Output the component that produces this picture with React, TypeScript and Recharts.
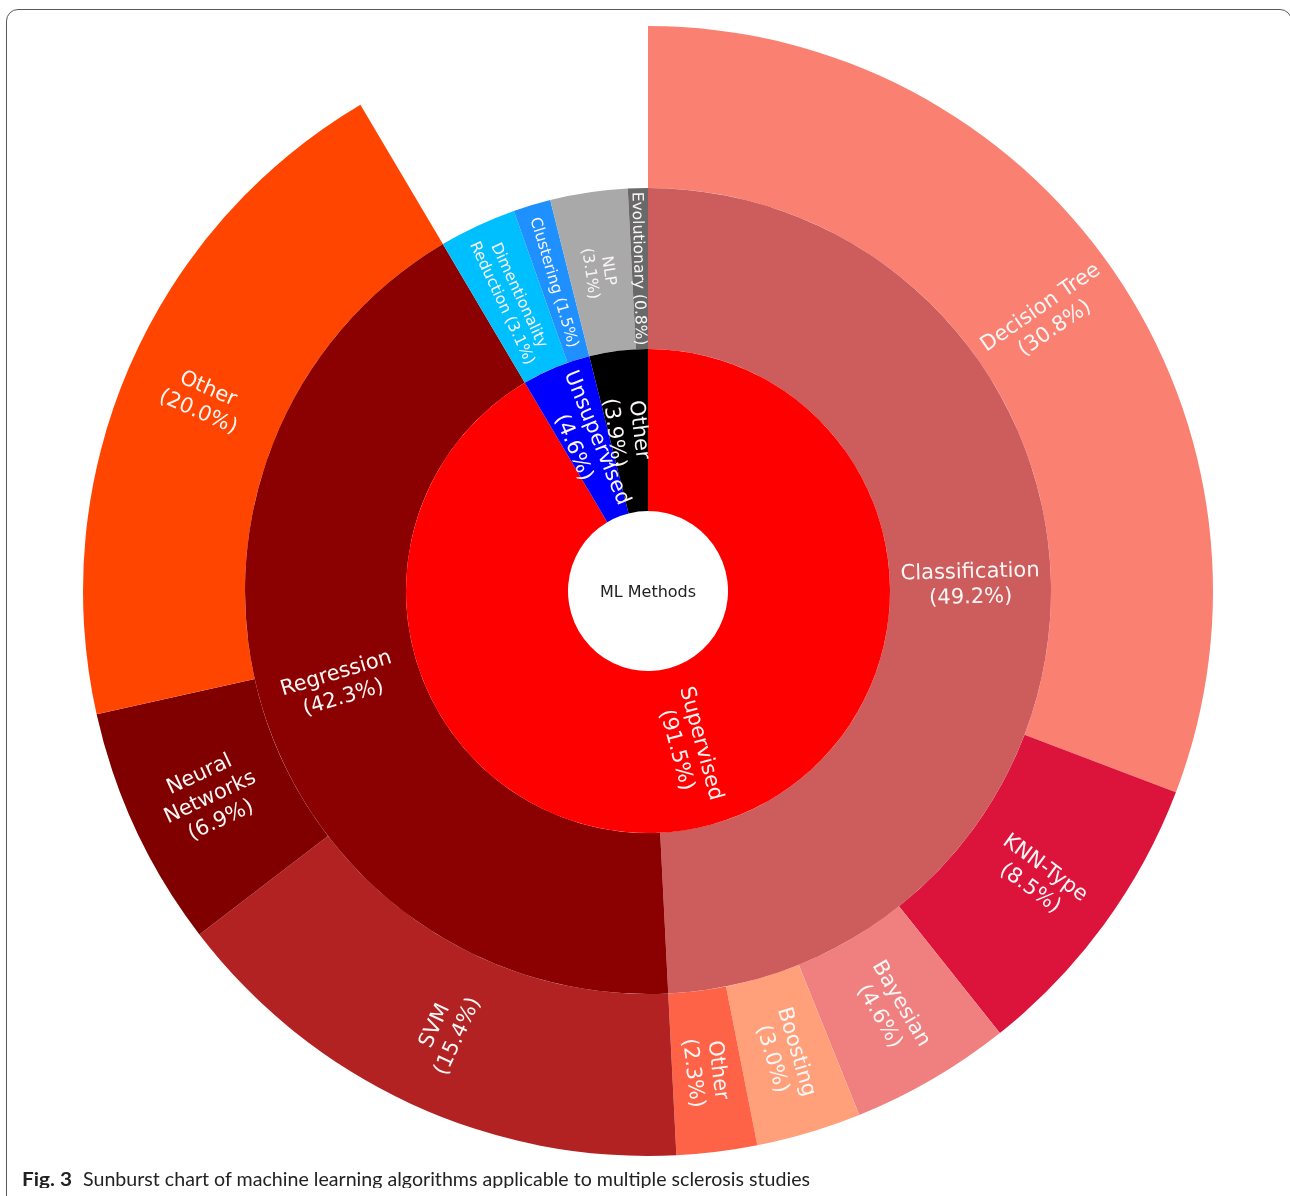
import React from 'react';
import { PieChart, Pie, Cell } from 'recharts';

// ---------- data ----------
const rootLabel = 'ML Methods';

const ring1Labels = ['Supervised\n(91.5%)', 'Unsupervised\n(4.6%)', 'Other\n(3.9%)'];
const ring1Values = [91.5, 4.6, 3.9];

const ring2Labels = [
  'Classification\n(49.2%)',
  'Regression\n(42.3%)',
  'Dimentionality\nReduction (3.1%)',
  'Clustering (1.5%)',
  'NLP\n(3.1%)',
  'Evolutionary (0.8%)',
];
const ring2Values = [49.2, 42.3, 3.1, 1.5, 3.1, 0.8];

const ring3Labels = [
  'Decision Tree\n(30.8%)',
  'KNN-Type\n(8.5%)',
  'Bayesian\n(4.6%)',
  'Boosting\n(3.0%)',
  'Other\n(2.3%)',
  'SVM\n(15.4%)',
  'Neural\nNetworks\n(6.9%)',
  'Other\n(20.0%)',
];
const ring3Values = [30.8, 8.5, 4.6, 3.0, 2.3, 15.4, 6.9, 20.0];

const captionBold = 'Fig. 3';
const captionText = 'Sunburst chart of machine learning algorithms applicable to multiple sclerosis studies';

// ---------- styles ----------
const ring1Colors = ['#FF0000', '#0000FF', '#000000'];
const ring2Colors = ['#CD5C5C', '#8B0000', '#00BFFF', '#1E90FF', '#A9A9A9', '#696969'];
const ring3Colors = ['#FA8072', '#DC143C', '#F08080', '#FFA07A', '#FF6347', '#B22222', '#800000', '#FF4500'];

const build = (labels: string[], values: number[]) =>
  labels.map((text, i) => ({ text, value: values[i] }));

const ring1Data = build(ring1Labels, ring1Values);
const ring2Data = build(ring2Labels, ring2Values);
const ring3Data = build(ring3Labels, ring3Values);
const rootData = [{ text: rootLabel, value: 1 }];

const total = ring1Values.reduce((a, b) => a + b, 0);
const ring3Sum = ring3Values.reduce((a, b) => a + b, 0);

const RAD = Math.PI / 180;
const FONT = '"DejaVu Sans", sans-serif';

const makeLabel = (sizeFor: (v: number) => number) => (props: any) => {
  const { cx, cy, midAngle, innerRadius, outerRadius, value } = props;
  const text: string = props.text ?? props.payload?.text ?? '';
  const r = (innerRadius + outerRadius) / 2;
  const x = cx + r * Math.cos(-midAngle * RAD);
  const y = cy + r * Math.sin(-midAngle * RAD);
  let a = ((midAngle % 360) + 360) % 360;
  if (a > 180) a -= 360;
  if (a > 90) a -= 180;
  else if (a < -90) a += 180;
  const lines = text.split('\n');
  const fs = sizeFor(value);
  const lh = fs * 1.2;
  return (
    <text
      transform={`rotate(${-a}, ${x}, ${y})`}
      textAnchor="middle"
      fill="#fbf6f6"
      fontSize={fs}
      fontFamily={FONT}
    >
      {lines.map((l, i) => (
        <tspan key={i} x={x} y={y + (i - (lines.length - 1) / 2) * lh + fs * 0.36}>
          {l}
        </tspan>
      ))}
    </text>
  );
};

const rootLabelRender = (props: any) => {
  const { cx, cy } = props;
  return (
    <text x={cx} y={cy + 16 * 0.36} textAnchor="middle" fill="#222" fontSize={16} fontFamily={FONT}>
      {rootLabel}
    </text>
  );
};

const CX = 640;
const CY = 583;
const R0 = 80;
const R1 = 242;
const R2 = 403;
const R3 = 565;

export default function App() {
  return (
    <div style={{ position: 'relative', width: 1274, height: 1180 }}>
      <style>{'html{overflow:hidden}'}</style>
      <div
        style={{
          position: 'fixed',
          left: 6,
          top: 9,
          width: 1286,
          height: 1200,
          border: '1.5px solid #5a5a5a',
          borderRadius: 12,
          boxSizing: 'border-box',
          pointerEvents: 'none',
        }}
      />
      <div style={{ position: 'absolute', left: 0, top: 0 }}>
        <PieChart width={1274} height={1160} margin={{ top: 0, right: 0, bottom: 0, left: 0 }}>
          <Pie
            data={rootData}
            dataKey="value"
            cx={CX}
            cy={CY}
            innerRadius={0}
            outerRadius={R0}
            startAngle={90}
            endAngle={-270}
            isAnimationActive={false}
            labelLine={false}
            label={rootLabelRender}
            stroke="none"
          >
            <Cell fill="#ffffff" stroke="none" />
          </Pie>
          <Pie
            data={ring3Data}
            dataKey="value"
            cx={CX}
            cy={CY}
            innerRadius={R2}
            outerRadius={R3}
            startAngle={90}
            endAngle={90 - (360 * ring3Sum) / total}
            isAnimationActive={false}
            labelLine={false}
            label={makeLabel(() => 21)}
            stroke="none"
          >
            {ring3Data.map((d, i) => (
              <Cell key={i} fill={ring3Colors[i]} stroke="none" />
            ))}
          </Pie>
          <Pie
            data={ring2Data}
            dataKey="value"
            cx={CX}
            cy={CY}
            innerRadius={R1}
            outerRadius={R2}
            startAngle={90}
            endAngle={-270}
            isAnimationActive={false}
            labelLine={false}
            label={makeLabel((v) => (v < 5 ? 15.5 : 21))}
            stroke="none"
          >
            {ring2Data.map((d, i) => (
              <Cell key={i} fill={ring2Colors[i]} stroke="none" />
            ))}
          </Pie>
          <Pie
            data={ring1Data}
            dataKey="value"
            cx={CX}
            cy={CY}
            innerRadius={R0}
            outerRadius={R1}
            startAngle={90}
            endAngle={-270}
            isAnimationActive={false}
            labelLine={false}
            label={makeLabel(() => 21)}
            stroke="none"
          >
            {ring1Data.map((d, i) => (
              <Cell key={i} fill={ring1Colors[i]} stroke="none" />
            ))}
          </Pie>
        </PieChart>
      </div>
      <svg width={1274} height={32} style={{ position: 'absolute', left: 0, top: 1155 }}>
        <text
          x={14}
          y={23}
          fontFamily="Lato, sans-serif"
          fontWeight={700}
          fontSize={19}
          fill="#222"
          textLength={50}
          lengthAdjust="spacingAndGlyphs"
        >
          {captionBold}
        </text>
        <text
          x={75}
          y={23}
          fontFamily="Lato, sans-serif"
          fontSize={19}
          fill="#222"
          textLength={727}
          lengthAdjust="spacingAndGlyphs"
        >
          {captionText}
        </text>
      </svg>
    </div>
  );
}
